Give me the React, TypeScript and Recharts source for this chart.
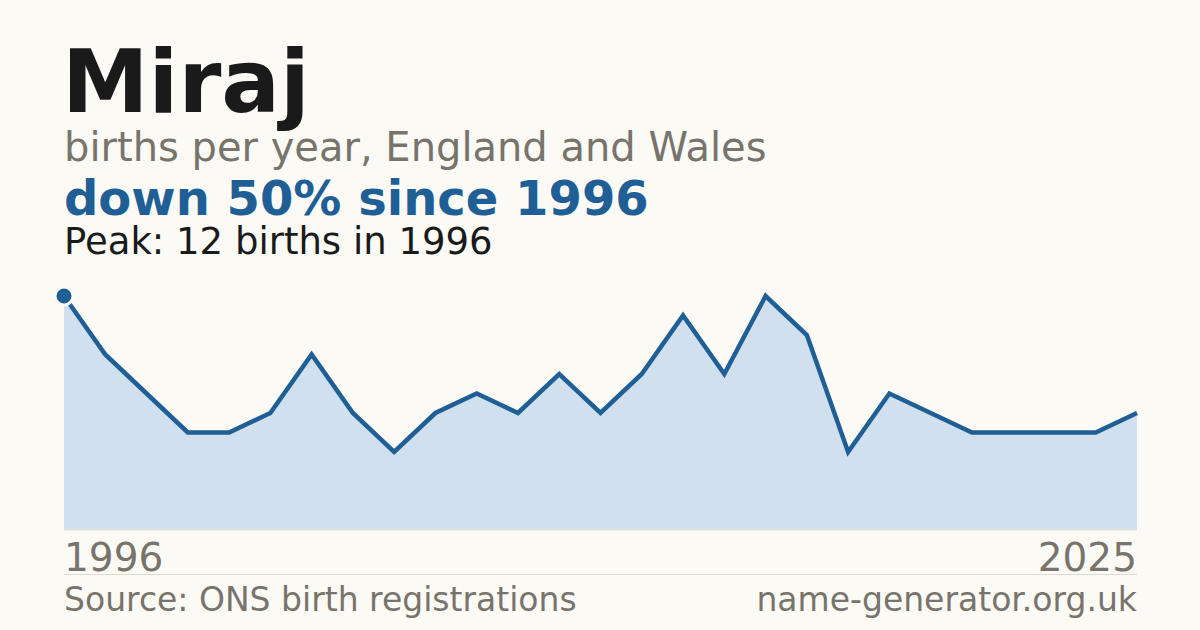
import React from 'react';
import { AreaChart, Area, XAxis, YAxis, ReferenceLine } from 'recharts';

const colors = {
  bg: '#fbfaf5',
  ink: '#1a1a1a',
  muted: '#78746c',
  blue: '#1f5f96',
  fill: '#d0e0ef',
  rule: '#dedad2',
} as const;

// years with a published count (gaps are years below the reporting threshold)
const years = [
  1996, 1997, 1998, 1999, 2000, 2001, 2002, 2003, 2004, 2005, 2006, 2007, 2008, 2009,
  2010, 2011, 2012, 2013, 2014, 2017, 2018, 2019, 2021, 2022, 2023, 2024, 2025,
];
const births = [12, 9, 7, 5, 5, 6, 9, 6, 4, 6, 7, 6, 8, 6, 8, 11, 8, 12, 10, 4, 7, 6, 5, 5, 5, 5, 6];
const tickYears = [1996, 2025];

const data = years.map((year, i) => ({ year, births: births[i] }));

const font = '"DejaVu Sans", Verdana, sans-serif';

// only the first year gets a marker
const FirstDot = (props: any) => {
  const { cx, cy, index } = props;
  if (index !== 0) return <g key={index} />;
  return <circle key={index} cx={cx} cy={cy} r={9} fill={colors.blue} stroke={colors.bg} strokeWidth={3} />;
};

const YearTick = (props: any) => {
  const { x, payload, index } = props;
  return (
    <text
      x={x}
      y={571}
      textAnchor={index === 0 ? 'start' : 'end'}
      fill={colors.muted}
      fontSize={39}
      fontFamily={font}
    >
      {payload.value}
    </text>
  );
};

export default function App() {
  return (
    <div
      style={{
        position: 'absolute',
        left: 0,
        top: 0,
        width: 1200,
        height: 630,
        background: colors.bg,
        fontFamily: font,
        overflow: 'hidden',
      }}
    >
      <AreaChart width={1200} height={630} data={data} margin={{ top: 296, right: 63, left: 64, bottom: 0 }}>
        <XAxis
          dataKey="year"
          ticks={tickYears}
          interval={0}
          axisLine={false}
          tickLine={false}
          tick={<YearTick />}
          height={100}
        />
        <YAxis hide domain={[0, 12]} />
        <ReferenceLine y={0} stroke="#ebe4d8" strokeWidth={1} />
        <Area
          type="linear"
          dataKey="births"
          stroke={colors.blue}
          strokeWidth={4.5}
          fill={colors.fill}
          fillOpacity={1}
          dot={<FirstDot />}
          activeDot={false}
          isAnimationActive={false}
        />
      </AreaChart>

      <div style={{ position: 'absolute', left: 62, top: 39, fontSize: 87, fontWeight: 700, color: colors.ink, lineHeight: 1 }}>
        Miraj
      </div>
      <div style={{ position: 'absolute', left: 64, top: 127, fontSize: 40, color: colors.muted, lineHeight: 1 }}>
        births per year, England and Wales
      </div>
      <div style={{ position: 'absolute', left: 64, top: 179, fontSize: 48, fontWeight: 700, color: colors.blue, lineHeight: 0.8 }}>
        down 50% since 1996
      </div>
      <div style={{ position: 'absolute', left: 64, top: 227, fontSize: 37, color: colors.ink, lineHeight: 0.8 }}>
        Peak: 12 births in 1996
      </div>

      <div style={{ position: 'absolute', left: 64, top: 574, width: 1073, height: 1, background: colors.rule }} />
      <div style={{ position: 'absolute', left: 64, top: 583, fontSize: 33, color: colors.muted, lineHeight: 1 }}>
        Source: ONS birth registrations
      </div>
      <div style={{ position: 'absolute', right: 63, top: 583, fontSize: 33, color: colors.muted, lineHeight: 1 }}>
        name-generator.org.uk
      </div>
    </div>
  );
}
